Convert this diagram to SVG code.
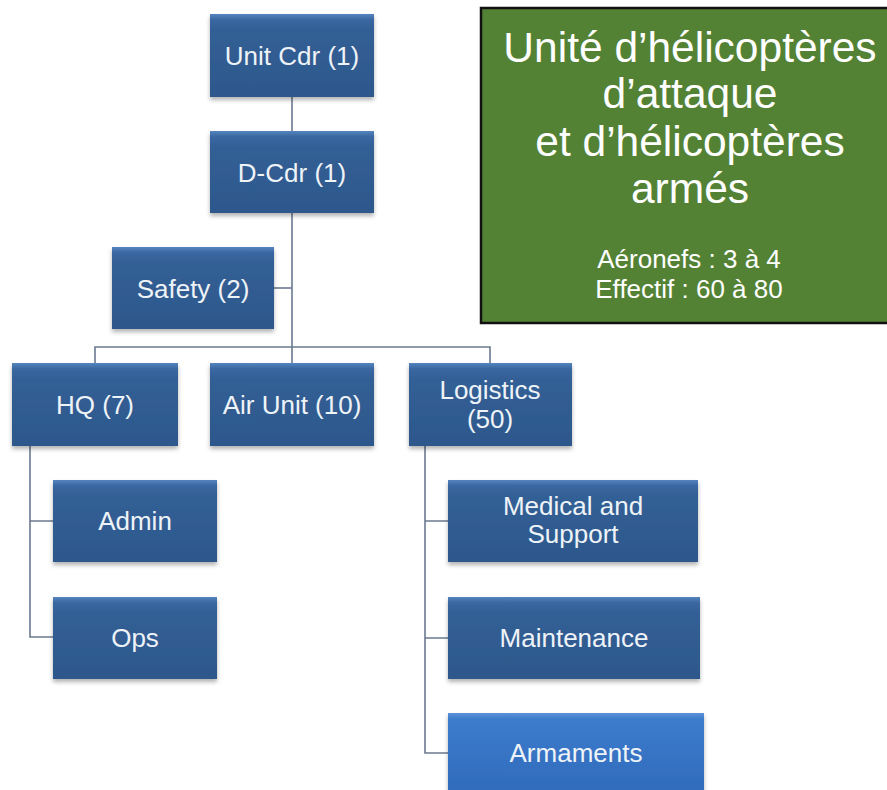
<svg xmlns="http://www.w3.org/2000/svg" width="887" height="790" viewBox="0 0 887 790">
  <defs>
    <linearGradient id="boxFill" x1="0" y1="0" x2="0" y2="1">
      <stop offset="0" stop-color="#5584bf"/>
      <stop offset="0.07" stop-color="#3a67a0"/>
      <stop offset="0.2" stop-color="#325f95"/>
      <stop offset="1" stop-color="#2d588c"/>
    </linearGradient>
    <linearGradient id="boxFillHi" x1="0" y1="0" x2="0" y2="1">
      <stop offset="0" stop-color="#5c92d8"/>
      <stop offset="0.07" stop-color="#3d7bcc"/>
      <stop offset="1" stop-color="#2f69b9"/>
    </linearGradient>
    <filter id="shadow" x="-10%" y="-10%" width="120%" height="130%">
      <feDropShadow dx="0" dy="3" stdDeviation="2" flood-color="#000" flood-opacity="0.3"/>
    </filter>
  </defs>
  <style>
    .box { fill: url(#boxFill); filter: url(#shadow); }
    .box.hi { fill: url(#boxFillHi); }
    .lbl { font-family: "Liberation Sans", Arial, sans-serif; font-size: 26px; fill: #eef3f8; text-anchor: middle; }
    .link { stroke: #6b7a90; stroke-width: 1.6; fill: none; }
    .title { font-family: "Liberation Sans", Arial, sans-serif; font-size: 42.5px; fill: #ffffff; text-anchor: middle; }
    .sub { font-family: "Liberation Sans", Arial, sans-serif; font-size: 26px; fill: #ffffff; text-anchor: middle; }
  </style>

  <rect width="887" height="790" fill="#ffffff"/>

  <!-- connectors -->
  <g id="connectors">
    <path class="link" d="M292 97 V131"/>
    <path class="link" d="M292 213 V363"/>
    <path class="link" d="M274 288 H292"/>
    <path class="link" d="M95 363 V347 H490 V363"/>
    <path class="link" d="M30 446 V637 H53 M30 521 H53"/>
    <path class="link" d="M425 446 V753 H448 M425 521 H448 M425 638 H448"/>
  </g>

  <!-- nodes -->
  <g id="unit-cdr">
    <rect class="box" x="210" y="14" width="164" height="83"/>
    <text class="lbl" x="292" y="65">Unit Cdr (1)</text>
  </g>
  <g id="d-cdr">
    <rect class="box" x="210" y="131" width="164" height="82"/>
    <text class="lbl" x="292" y="182">D-Cdr (1)</text>
  </g>
  <g id="safety">
    <rect class="box" x="112" y="247" width="162" height="82"/>
    <text class="lbl" x="193" y="298">Safety (2)</text>
  </g>
  <g id="hq">
    <rect class="box" x="12" y="363" width="166" height="83"/>
    <text class="lbl" x="95" y="414">HQ (7)</text>
  </g>
  <g id="air-unit">
    <rect class="box" x="210" y="363" width="164" height="83"/>
    <text class="lbl" x="292" y="414">Air Unit (10)</text>
  </g>
  <g id="logistics">
    <rect class="box" x="409" y="363" width="163" height="83"/>
    <text class="lbl" x="490" y="399">Logistics</text>
    <text class="lbl" x="490" y="428">(50)</text>
  </g>
  <g id="admin">
    <rect class="box" x="53" y="480" width="164" height="82"/>
    <text class="lbl" x="135" y="530">Admin</text>
  </g>
  <g id="ops">
    <rect class="box" x="53" y="597" width="164" height="82"/>
    <text class="lbl" x="135" y="647">Ops</text>
  </g>
  <g id="medical">
    <rect class="box" x="448" y="480" width="250" height="82"/>
    <text class="lbl" x="573" y="515">Medical and</text>
    <text class="lbl" x="573" y="543">Support</text>
  </g>
  <g id="maintenance">
    <rect class="box" x="448" y="597" width="252" height="82"/>
    <text class="lbl" x="574" y="647">Maintenance</text>
  </g>
  <g id="armaments">
    <rect class="box hi" x="448" y="713" width="256" height="90"/>
    <text class="lbl" x="576" y="762">Armaments</text>
  </g>

  <!-- title panel -->
  <g id="title-panel">
    <rect x="481" y="8" width="420" height="315" fill="#548235" stroke="#111111" stroke-width="2.5"/>
    <text class="title" x="690" y="62">Unité d’hélicoptères</text>
    <text class="title" x="690" y="108">d’attaque</text>
    <text class="title" x="690" y="156">et d’hélicoptères</text>
    <text class="title" x="690" y="203">armés</text>
    <text class="sub" x="689" y="268">Aéronefs : 3 à 4</text>
    <text class="sub" x="689" y="298">Effectif : 60 à 80</text>
  </g>
</svg>
